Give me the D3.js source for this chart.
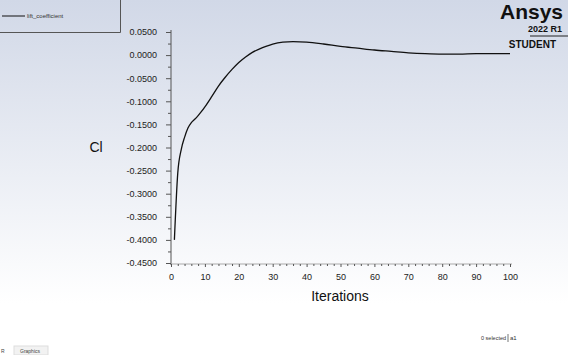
<!DOCTYPE html>
<html>
<head>
<meta charset="utf-8">
<script src="https://cdn.jsdelivr.net/npm/d3@7"></script>
<style>
  body { margin: 0; padding: 0; overflow: hidden; }
  svg { display: block; font-family: "Liberation Sans", Arial, sans-serif; }
</style>
</head>
<body>
<div id="chart"></div>
<script>
// Values
const iterations = [1, 2, 3, 4, 5, 6, 7, 8, 9, 10, 12, 14, 16, 18, 20, 22, 24, 26, 28, 30,
    33, 36, 40, 45, 50, 55, 60, 65, 70, 75, 80, 85, 90, 95, 100];
const liftCoeff = [-0.400, -0.255, -0.205, -0.178, -0.158, -0.146, -0.139, -0.131, -0.122, -0.112,
    -0.090, -0.067, -0.048, -0.031, -0.016, -0.004, 0.006, 0.013, 0.019, 0.024,
    0.028, 0.029, 0.028, 0.024, 0.019, 0.015, 0.011, 0.008, 0.005, 0.003,
    0.002, 0.002, 0.003, 0.003, 0.003];
const yTicks = [0.05, 0, -0.05, -0.1, -0.15, -0.2, -0.25, -0.3, -0.35, -0.4, -0.45];
const yMinorTicks = [0.025, -0.025, -0.075, -0.125, -0.175, -0.225, -0.275, -0.325, -0.375, -0.425];
const xTicks = [0, 10, 20, 30, 40, 50, 60, 70, 80, 90, 100];
const xMinorTicks = d3.range(0, 101, 2).filter(v => v % 10 !== 0);

const W = 568, H = 355;
const svg = d3.select("#chart").append("svg")
    .attr("width", W)
    .attr("height", H);

// background gradient
const defs = svg.append("defs");
const grad = defs.append("linearGradient")
    .attr("id", "bg").attr("x1", 0).attr("y1", 0).attr("x2", 0).attr("y2", 1);
grad.append("stop").attr("offset", "0%").attr("stop-color", "#d1d8e7");
grad.append("stop").attr("offset", "92%").attr("stop-color", "#ffffff");
grad.append("stop").attr("offset", "100%").attr("stop-color", "#ffffff");

svg.append("rect").attr("width", W).attr("height", 330).attr("fill", "url(#bg)");
svg.append("rect").attr("y", 330).attr("width", W).attr("height", 25).attr("fill", "#ffffff");

// scales
const x = d3.scaleLinear().domain([0, 100]).range([171, 510]);
const y = d3.scaleLinear().domain([-0.45, 0.05]).range([263, 32]);

// y axis (major ticks with labels, then minor ticks)
const yAxis = svg.append("g").attr("transform", "translate(171,0)");
yAxis.call(d3.axisLeft(y).tickValues(yTicks)
    .tickFormat(d => d3.format(".4f")(d).replace("\u2212", "-"))
    .tickSize(5).tickPadding(9));
yAxis.selectAll("text").attr("fill", "#222").style("font-size", "9px");
yAxis.append("g").call(d3.axisLeft(y).tickValues(yMinorTicks).tickSize(3).tickFormat(""))
    .select(".domain").remove();
yAxis.select(".domain").attr("stroke", "#555").attr("d", "M0,30V265");
yAxis.selectAll("line").attr("stroke", "#555");

// x axis
const xAxis = svg.append("g").attr("transform", "translate(0,264)");
xAxis.call(d3.axisBottom(x).tickValues(xTicks).tickSize(3).tickPadding(7));
xAxis.selectAll("text").attr("fill", "#222").style("font-size", "9px");
xAxis.append("g").call(d3.axisBottom(x).tickValues(xMinorTicks).tickSize(2).tickFormat(""))
    .select(".domain").remove();
xAxis.select(".domain").attr("stroke", "#aaa").attr("d", "M171,0H512");
xAxis.selectAll("line").attr("stroke", "#555");

// axis titles
svg.append("text")
    .attr("x", 96).attr("y", 152)
    .attr("text-anchor", "middle")
    .attr("fill", "#111")
    .style("font-size", "14px")
    .text("Cl");

svg.append("text")
    .attr("x", 340).attr("y", 301)
    .attr("text-anchor", "middle")
    .attr("fill", "#111")
    .style("font-size", "14px")
    .text("Iterations");

// curve
const line = d3.line()
    .x((d, i) => x(iterations[i]))
    .y(d => y(d))
    .curve(d3.curveMonotoneX);

svg.append("path")
    .datum(liftCoeff)
    .attr("fill", "none")
    .attr("stroke", "#111")
    .attr("stroke-width", 1.3)
    .attr("d", line);

// legend box
svg.append("path")
    .attr("d", "M0,32.5H120.5V0")
    .attr("fill", "none")
    .attr("stroke", "#555")
    .attr("stroke-width", 1);
svg.append("line")
    .attr("x1", 2).attr("x2", 25).attr("y1", 16).attr("y2", 16)
    .attr("stroke", "#111").attr("stroke-width", 1);
svg.append("text")
    .attr("x", 27).attr("y", 18)
    .attr("fill", "#333")
    .style("font-size", "6px")
    .text("lift_coefficient");

// Ansys logo
svg.append("text")
    .attr("x", 563).attr("y", 19)
    .attr("text-anchor", "end")
    .attr("fill", "#111")
    .style("font-size", "21px").style("font-weight", "bold")
    .text("Ansys");
svg.append("text")
    .attr("x", 562).attr("y", 32)
    .attr("text-anchor", "end")
    .attr("fill", "#111")
    .style("font-size", "9px").style("font-weight", "bold")
    .text("2022 R1");
svg.append("line")
    .attr("x1", 530).attr("x2", 568).attr("y1", 36).attr("y2", 36)
    .attr("stroke", "#222").attr("stroke-width", 1);
svg.append("text")
    .attr("x", 556).attr("y", 48)
    .attr("text-anchor", "end")
    .attr("fill", "#111")
    .style("font-size", "10px").style("font-weight", "bold")
    .text("STUDENT");

// bottom status texts
svg.append("text")
    .attr("x", 481).attr("y", 340)
    .attr("fill", "#333")
    .style("font-size", "5.5px")
    .text("0 selected");
svg.append("line")
    .attr("x1", 508).attr("x2", 508).attr("y1", 334).attr("y2", 342)
    .attr("stroke", "#777");
svg.append("text")
    .attr("x", 510).attr("y", 340)
    .attr("fill", "#333")
    .style("font-size", "6px")
    .text("a1");
svg.append("rect")
    .attr("x", 14).attr("y", 346).attr("width", 34).attr("height", 9)
    .attr("fill", "#f2f2f2").attr("stroke", "#ddd");
svg.append("text")
    .attr("x", 1).attr("y", 353)
    .attr("fill", "#444")
    .style("font-size", "5px")
    .text("R");
svg.append("text")
    .attr("x", 20).attr("y", 353)
    .attr("fill", "#444")
    .style("font-size", "5px")
    .text("Graphics");
</script>
</body>
</html>
